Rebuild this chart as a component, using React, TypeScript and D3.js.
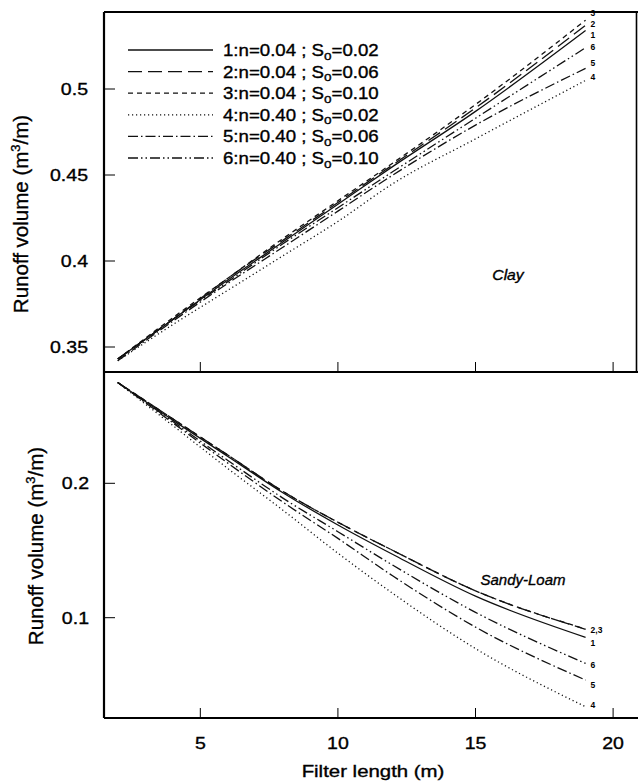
import React from "react";
import * as d3 from "d3";

// Filter lengths (m) at which runoff volume was computed
const filterLength = [2, 4, 6, 8, 10, 12, 15, 19];

// Runoff volume (m3/m), clay soil
const clay1 = [0.343, 0.366, 0.389, 0.411, 0.433, 0.455, 0.487, 0.534];
const clay2 = [0.343, 0.366, 0.390, 0.412, 0.434, 0.456, 0.489, 0.537];
const clay3 = [0.343, 0.367, 0.390, 0.413, 0.435, 0.457, 0.491, 0.540];
const clay4 = [0.342, 0.363, 0.383, 0.403, 0.423, 0.445, 0.471, 0.505];
const clay5 = [0.342, 0.365, 0.387, 0.408, 0.429, 0.450, 0.479, 0.512];
const clay6 = [0.343, 0.366, 0.388, 0.410, 0.431, 0.452, 0.483, 0.524];

// Runoff volume (m3/m), sandy-loam soil
const sandy1 = [0.275, 0.247, 0.220, 0.193, 0.169, 0.147, 0.116, 0.0854];
const sandy2 = [0.275, 0.248, 0.221, 0.194, 0.171, 0.150, 0.120, 0.0914];
const sandy3 = [0.275, 0.248, 0.221, 0.194, 0.171, 0.150, 0.120, 0.0916];
const sandy4 = [0.275, 0.243, 0.211, 0.180, 0.148, 0.118, 0.077, 0.0338];
const sandy5 = [0.275, 0.245, 0.215, 0.186, 0.159, 0.131, 0.093, 0.0536];
const sandy6 = [0.275, 0.246, 0.217, 0.189, 0.164, 0.139, 0.104, 0.066];

const caseIds = ["1", "2", "3", "4", "5", "6"];
const manningN = ["0.04", "0.04", "0.04", "0.40", "0.40", "0.40"];
const slopeSo = ["0.02", "0.06", "0.10", "0.02", "0.06", "0.10"];

const xTicks = [5, 10, 15, 20];
const clayTicks = [0.35, 0.4, 0.45, 0.5];
const sandyTicks = [0.1, 0.2];

// End-of-line labels (sandy-loam: 2 and 3 share one label)
const clayEndLabels = ["1", "2", "3", "4", "5", "6"];
const sandyEndLabels = ["1", "2,3", "", "4", "5", "6"];

const dashes = ["none", "14,6", "5,4", "1.2,2.8", "10,3,1.5,3", "10,3,1.5,3,1.5,3"];
// vertical offsets that keep the crowded end labels apart
const clayLabelNudge = [4, -1, -7, -3, -5, -0.5];
const sandyLabelNudge = [5.5, 1.2, 0, -1.2, 4.5, 1.5];

const FONT = "'Liberation Sans', Arial, Helvetica, sans-serif";
const STRETCH = 1.15;
const INK = 0.35; // thin outline that gives the printed text its weight

const W = 638;
const H = 784;
const left = 104;
const right = 636.5;
const top = 12;
const mid = 372;
const bottom = 718;

type STextProps = {
  x: number;
  y: number;
  size: number;
  anchor?: "start" | "middle" | "end";
  sx?: number;
  italic?: boolean;
  children: React.ReactNode;
};

// Text drawn slightly wider than the font's natural proportions
function SText({ x, y, size, anchor = "start", sx = STRETCH, italic, children }: STextProps) {
  return (
    <text
      transform={`translate(${x},${y}) scale(${sx},1)`}
      textAnchor={anchor}
      fontSize={size}
      fontFamily={FONT}
      fontStyle={italic ? "italic" : "normal"}
      fill="#000"
      stroke="#000"
      strokeWidth={INK}
    >
      {children}
    </text>
  );
}

export default function App() {
  const x = d3.scaleLinear().domain([1.5, 20.85]).range([left, right]);
  const yClay = d3.scaleLinear().domain([0.35, 0.5]).range([347, 89]);
  const ySandy = d3.scaleLinear().domain([0.1, 0.2]).range([617.7, 483.3]);

  const claySeries = [clay1, clay2, clay3, clay4, clay5, clay6];
  const sandySeries = [sandy1, sandy2, sandy3, sandy4, sandy5, sandy6];

  const lineFor = (y: d3.ScaleLinear<number, number>) =>
    d3
      .line<number>()
      .x((_, i) => x(filterLength[i]))
      .y((d) => y(d))
      .curve(d3.curveMonotoneX);

  const clayLine = lineFor(yClay);
  const sandyLine = lineFor(ySandy);
  const lastX = x(filterLength[filterLength.length - 1]);

  const yTitle = (bx: number, cy: number) => (
    <text
      transform={`translate(${bx},${cy}) rotate(-90)`}
      textAnchor="middle"
      fontSize={20.5}
      fontFamily={FONT}
      stroke="#000"
      strokeWidth={INK}
    >
      Runoff volume (m
      <tspan fontSize={13} dy={-8}>
        3
      </tspan>
      <tspan dy={8}>/m)</tspan>
    </text>
  );

  return (
    <svg
      width={W}
      height={H}
      style={{ position: "absolute", left: 0, top: 0, background: "#fff" }}
    >
      {/* Clay panel lines */}
      {claySeries.map((s, i) => (
        <path
          key={"c" + i}
          d={clayLine(s) || ""}
          fill="none"
          stroke="#111"
          strokeWidth={1.3}
          strokeDasharray={dashes[i]}
        />
      ))}
      {/* Sandy-loam panel lines */}
      {sandySeries.map((s, i) => (
        <path
          key={"s" + i}
          d={sandyLine(s) || ""}
          fill="none"
          stroke="#111"
          strokeWidth={1.3}
          strokeDasharray={dashes[i]}
        />
      ))}

      {/* End labels */}
      {claySeries.map((s, i) => (
        <text
          key={"cl" + i}
          x={lastX + 5}
          y={yClay(s[s.length - 1]) + clayLabelNudge[i] + 3}
          fontSize={8.5}
          fontWeight="bold"
          fontFamily={FONT}
        >
          {clayEndLabels[i]}
        </text>
      ))}
      {sandySeries.map((s, i) => (
        <text
          key={"sl" + i}
          x={lastX + 5}
          y={ySandy(s[s.length - 1]) + sandyLabelNudge[i] + 3}
          fontSize={8.5}
          fontWeight="bold"
          fontFamily={FONT}
        >
          {sandyEndLabels[i]}
        </text>
      ))}

      {/* Frames */}
      <line x1={left} x2={left} y1={top} y2={bottom} stroke="#000" strokeWidth={2.2} />
      <line x1={left} x2={W} y1={top} y2={top} stroke="#000" strokeWidth={2.2} />
      <line x1={left} x2={W} y1={mid} y2={mid} stroke="#000" strokeWidth={2.2} />
      <line x1={left} x2={W} y1={bottom} y2={bottom} stroke="#000" strokeWidth={2.2} />
      <line x1={right} x2={right} y1={top} y2={mid} stroke="#000" strokeWidth={1.6} />

      {/* X ticks, pointing inward, on both panels */}
      {xTicks.map((t) => (
        <g key={"xt" + t}>
          <line x1={x(t)} x2={x(t)} y1={mid} y2={mid - 10} stroke="#000" strokeWidth={1} />
          <line x1={x(t)} x2={x(t)} y1={bottom} y2={bottom - 10} stroke="#000" strokeWidth={1} />
          <SText x={x(t)} y={749} size={17} anchor="middle">
            {t}
          </SText>
        </g>
      ))}

      {/* Y ticks */}
      {clayTicks.map((t) => (
        <g key={"ct" + t}>
          <line x1={left} x2={left + 11} y1={yClay(t)} y2={yClay(t)} stroke="#000" strokeWidth={1} />
          <SText x={88} y={yClay(t) + 6} size={17} anchor="end">
            {String(t)}
          </SText>
        </g>
      ))}
      {sandyTicks.map((t) => (
        <g key={"st" + t}>
          <line x1={left} x2={left + 11} y1={ySandy(t)} y2={ySandy(t)} stroke="#000" strokeWidth={1} />
          <SText x={89} y={ySandy(t) + 6} size={17} anchor="end">
            {String(t)}
          </SText>
        </g>
      ))}

      {/* Axis titles */}
      {yTitle(28, 214)}
      {yTitle(43, 546)}
      <SText x={373} y={777} size={17} anchor="middle" sx={1.2}>
        Filter length (m)
      </SText>

      {/* Soil names */}
      <SText x={508} y={280} size={15} anchor="middle" italic sx={1.05}>
        Clay
      </SText>
      <SText x={523} y={585} size={15} anchor="middle" italic sx={1.0}>
        Sandy-Loam
      </SText>

      {/* Legend */}
      {caseIds.map((id, i) => {
        const ly = 50 + i * 21.6;
        return (
          <g key={"lg" + id}>
            <line
              x1={128}
              x2={213}
              y1={ly}
              y2={ly}
              stroke="#111"
              strokeWidth={1.3}
              strokeDasharray={dashes[i]}
            />
            <SText x={223} y={ly + 6} size={16.5} sx={1.13}>
              {`${id}:n=${manningN[i]} ; S`}
              <tspan fontSize={12} dy={3.5}>
                o
              </tspan>
              <tspan dy={-3.5}>{`=${slopeSo[i]}`}</tspan>
            </SText>
          </g>
        );
      })}
    </svg>
  );
}
